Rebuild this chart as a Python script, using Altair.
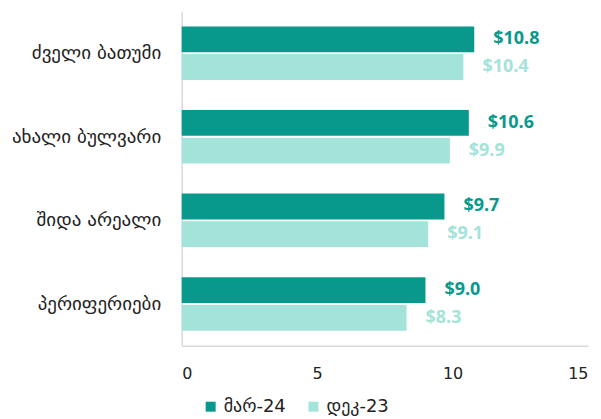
import altair as alt
import pandas as pd

categories = ["ძველი ბათუმი", "ახალი ბულვარი", "შიდა არეალი", "პერიფერიები"]
series = ["მარ-24", "დეკ-23"]
mar24 = [10.8, 10.6, 9.7, 9.0]
dec23 = [10.4, 9.9, 9.1, 8.3]
colors = ["#08998c", "#a4e3da"]
x_ticks = [0, 5, 10, 15]

rows = []
for c, a, b in zip(categories, mar24, dec23):
    rows.append({"cat": c, "series": series[0], "value": a})
    rows.append({"cat": c, "series": series[1], "value": b})
df = pd.DataFrame(rows)

color_scale = alt.Scale(domain=series, range=colors)
y_enc = alt.Y("cat:N", sort=categories, title=None,
              scale=alt.Scale(paddingInner=0.36, paddingOuter=0.18),
              axis=alt.Axis(ticks=False, labelFont="DejaVu Sans", labelFontSize=19,
                            labelColor="#222222", labelPadding=21,
                            domainColor="#d9d9d9", domainWidth=1.5))
yoff = alt.YOffset("series:N", sort=series, scale=alt.Scale(paddingInner=0.07))
x_enc = alt.X("value:Q", title=None,
              scale=alt.Scale(domain=[0, 15], nice=False),
              axis=alt.Axis(values=x_ticks, grid=False, ticks=False,
                            labelFont="DejaVu Sans", labelFontSize=16,
                            labelColor="#222222", labelPadding=20,
                            domainColor="#d9d9d9", domainWidth=1.5, format="d"))

bars = alt.Chart(df).mark_bar().encode(
    y=y_enc, yOffset=yoff, x=x_enc,
    color=alt.Color("series:N", scale=color_scale, sort=series, title=None,
                    legend=alt.Legend(orient="none", direction="horizontal",
                                      legendX=20, legendY=387,
                                      symbolType="square",
                                      symbolSize=100, symbolStrokeWidth=0,
                                      labelFont="DejaVu Sans", labelFontSize=18,
                                      labelColor="#222222", columnPadding=18,
                                      padding=0)),
)

labels = alt.Chart(df).mark_text(align="left", baseline="middle", dx=19,
                                 fontWeight="bold", fontSize=18, font="Open Sans").encode(
    y=alt.Y("cat:N", sort=categories), yOffset=yoff,
    x="value:Q",
    text=alt.Text("value:Q", format="$.1f"),
    color=alt.Color("series:N", scale=color_scale, sort=series, legend=None),
)

chart = (bars + labels).properties(
    width=407, height=335,
    padding={"top": 3, "left": 3, "right": 5, "bottom": 5},
).configure_view(stroke=None)

chart.save("out.html", embed_options={"renderer": "svg", "actions": False})
